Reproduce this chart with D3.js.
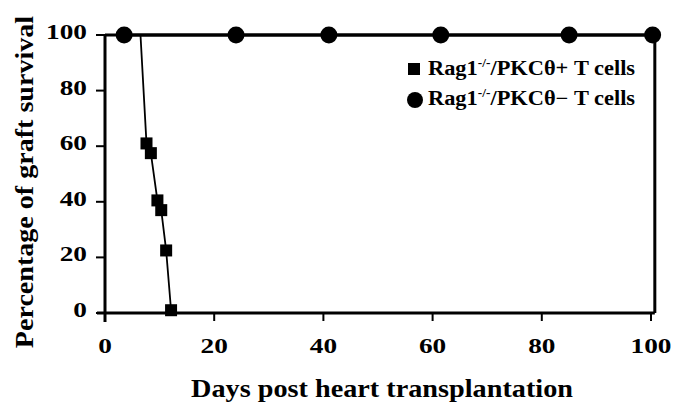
<!DOCTYPE html>
<html><head><meta charset="utf-8">
<script src="https://cdn.jsdelivr.net/npm/d3@7"></script>
<style>body{margin:0;background:#fff}svg{display:block}text{font-family:"Liberation Serif","Times New Roman",serif;font-weight:bold;fill:#000}</style>
</head><body><svg id="c" width="682" height="411"></svg>
<script>
// Rag1-/-/PKCθ+ T cells (squares); first point is line start without marker
const posDays = [6.5, 7.6, 8.4, 9.6, 10.3, 11.2, 12.1];
const posSurv = [100, 61, 57.5, 40.5, 37, 22.5, 1];
const posMarker = [false, true, true, true, true, true, true];
// Rag1-/-/PKCθ- T cells (circles)
const negDays = [3.5, 24, 41, 61.5, 85, 100.3];
const negSurv = [100, 100, 100, 100, 100, 100];
const xTicks = [0, 20, 40, 60, 80, 100];
const yTicks = [0, 20, 40, 60, 80, 100];

const svg = d3.select("#c");
const x = d3.scaleLinear().domain([0, 100]).range([105, 651]);
const y = d3.scaleLinear().domain([0, 100]).range([313, 35]);
const xMax = 100.7;
const tr = (px, py, s) => `translate(${px},${py}) scale(${s},1)`;

// frame top and right
svg.append("path").attr("d", `M${x(0)},${y(100)}H${x(xMax)}V${y(0)}`)
  .attr("fill","none").attr("stroke","#000").attr("stroke-width",3);

// x axis
const gx = svg.append("g").attr("transform",`translate(0,${y(0)})`);
gx.append("line").attr("x1", x(0)-8).attr("x2", x(xMax)).attr("stroke","#000").attr("stroke-width",3);
gx.selectAll(".t").data(xTicks).join("line").attr("x1",d=>x(d)).attr("x2",d=>x(d)).attr("y1",0).attr("y2",8).attr("stroke","#000").attr("stroke-width",2);
gx.selectAll("text").data(xTicks).join("text").attr("transform",d=>tr(x(d),40,1.3)).attr("text-anchor","middle").attr("font-size",21).text(d=>d);

// y axis
const gy = svg.append("g").attr("transform",`translate(${x(0)},0)`);
gy.append("line").attr("y1", y(100)).attr("y2", y(0)+9).attr("stroke","#000").attr("stroke-width",3);
gy.selectAll(".t").data(yTicks).join("line").attr("x1",-9).attr("x2",0).attr("y1",d=>y(d)).attr("y2",d=>y(d)).attr("stroke","#000").attr("stroke-width",2);
gy.selectAll("text").data(yTicks).join("text").attr("transform",d=>tr(-18,y(d)+4,1.3)).attr("text-anchor","end").attr("font-size",21).text(d=>d);

// titles
svg.append("text").attr("transform",`translate(33,182) rotate(-90) scale(1.08,1)`).attr("text-anchor","middle").attr("font-size",26).text("Percentage of graft survival");
svg.append("text").attr("transform",tr(382,397,1.13)).attr("text-anchor","middle").attr("font-size",25).text("Days post heart transplantation");

// series lines
const line = d3.line().x(d=>x(d[0])).y(d=>y(d[1]));
const posData = posDays.map((d,i)=>[d,posSurv[i],posMarker[i]]);
const negData = negDays.map((d,i)=>[d,negSurv[i]]);
svg.append("path").attr("d", line(posData)).attr("fill","none").attr("stroke","#000").attr("stroke-width",1.8);
svg.append("path").attr("d", line(negData)).attr("fill","none").attr("stroke","#000").attr("stroke-width",3);

const sq = 12;
svg.selectAll(".sq").data(posData.filter(d=>d[2])).join("rect")
  .attr("x",d=>x(d[0])-sq/2).attr("y",d=>y(d[1])-sq/2).attr("width",sq).attr("height",sq).attr("fill","#000");
svg.selectAll(".ci").data(negData).join("circle")
  .attr("cx",d=>x(d[0])).attr("cy",d=>y(d[1])).attr("r",8.5).attr("fill","#000");

// legend
const lg = svg.append("g");
lg.append("rect").attr("x",408).attr("y",63).attr("width",12).attr("height",12).attr("fill","#000");
lg.append("circle").attr("cx",415).attr("cy",100).attr("r",8).attr("fill","#000");
function legText(py, label) {
  const t = lg.append("text").attr("transform",tr(428,py,1.12)).attr("font-size",20);
  t.append("tspan").text("Rag1");
  t.append("tspan").attr("font-size",12).attr("dy",-8).text("-/-");
  t.append("tspan").attr("dy",8).text(label);
}
legText(75, "/PKCθ+ T cells");
legText(105, "/PKCθ− T cells");
</script></body></html>
